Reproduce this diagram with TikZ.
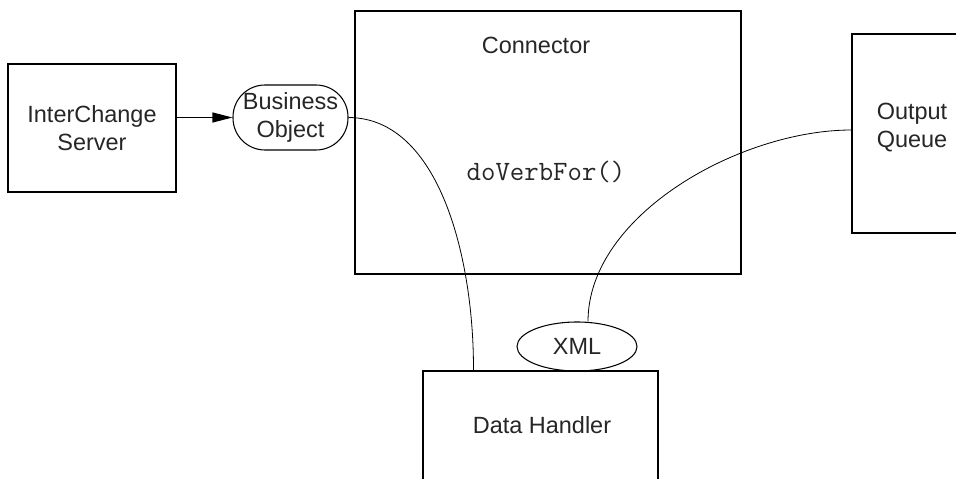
\documentclass[tikz,border=0pt]{standalone}
\usepackage{fontspec}
\setmainfont{Liberation Sans}
\usetikzlibrary{shapes.geometric,arrows.meta,calc}
\tikzset{
  box/.style={draw, line width=0.8pt, inner sep=0pt},
  txt/.style={align=center, text=black!85, font=\fontsize{17.6}{21}\selectfont},
}
\begin{document}
\begin{tikzpicture}[x=0.75pt,y=-0.75pt]
\clip (0,0) rectangle (956,478);
\node[box, minimum width=126pt, minimum height=96pt, txt] (srv) at (92,128){InterChange\\Server};
\node[box, minimum width=86.25pt, minimum height=48.75pt, rounded corners=24pt, txt] (bo) at (290.5,117.5){Business\\Object};
\node[box, minimum width=289.5pt, minimum height=197.25pt] (con) at (548,142.5){};
\node[txt] (cont) at (536,45){Connector};
\node[text=black!85, font=\fontsize{21}{24}\ttfamily] (verb) at (546,172){doVerbFor()};
\node[box, minimum width=96pt, minimum height=149.25pt] (oq) at (916,133.5){};
\node[txt] (oqt) at (912,128){Output\\Queue};
\node[box, ellipse, minimum width=90pt, minimum height=36.75pt, txt] (xml) at (577,346.5){XML};
\node[box, minimum width=176.25pt, minimum height=112.5pt] (dh) at (540.5,446){};
\node[txt] (dht) at (542,425){Data Handler};
\draw[line width=0.8pt, -{Triangle[length=15pt,width=7.5pt]}] (srv.east |- bo.west) -- (bo.west);
\draw[line width=0.6pt] (bo.east) .. controls (440,118) and (474,260) .. ($(dh.north west)+(51,0)$);
\draw[line width=0.6pt] ($(oq.west)+(0,-3.5)$) .. controls (740,130) and (588,215) .. ($(xml.north)+(11,0)$);
\end{tikzpicture}
\end{document}
